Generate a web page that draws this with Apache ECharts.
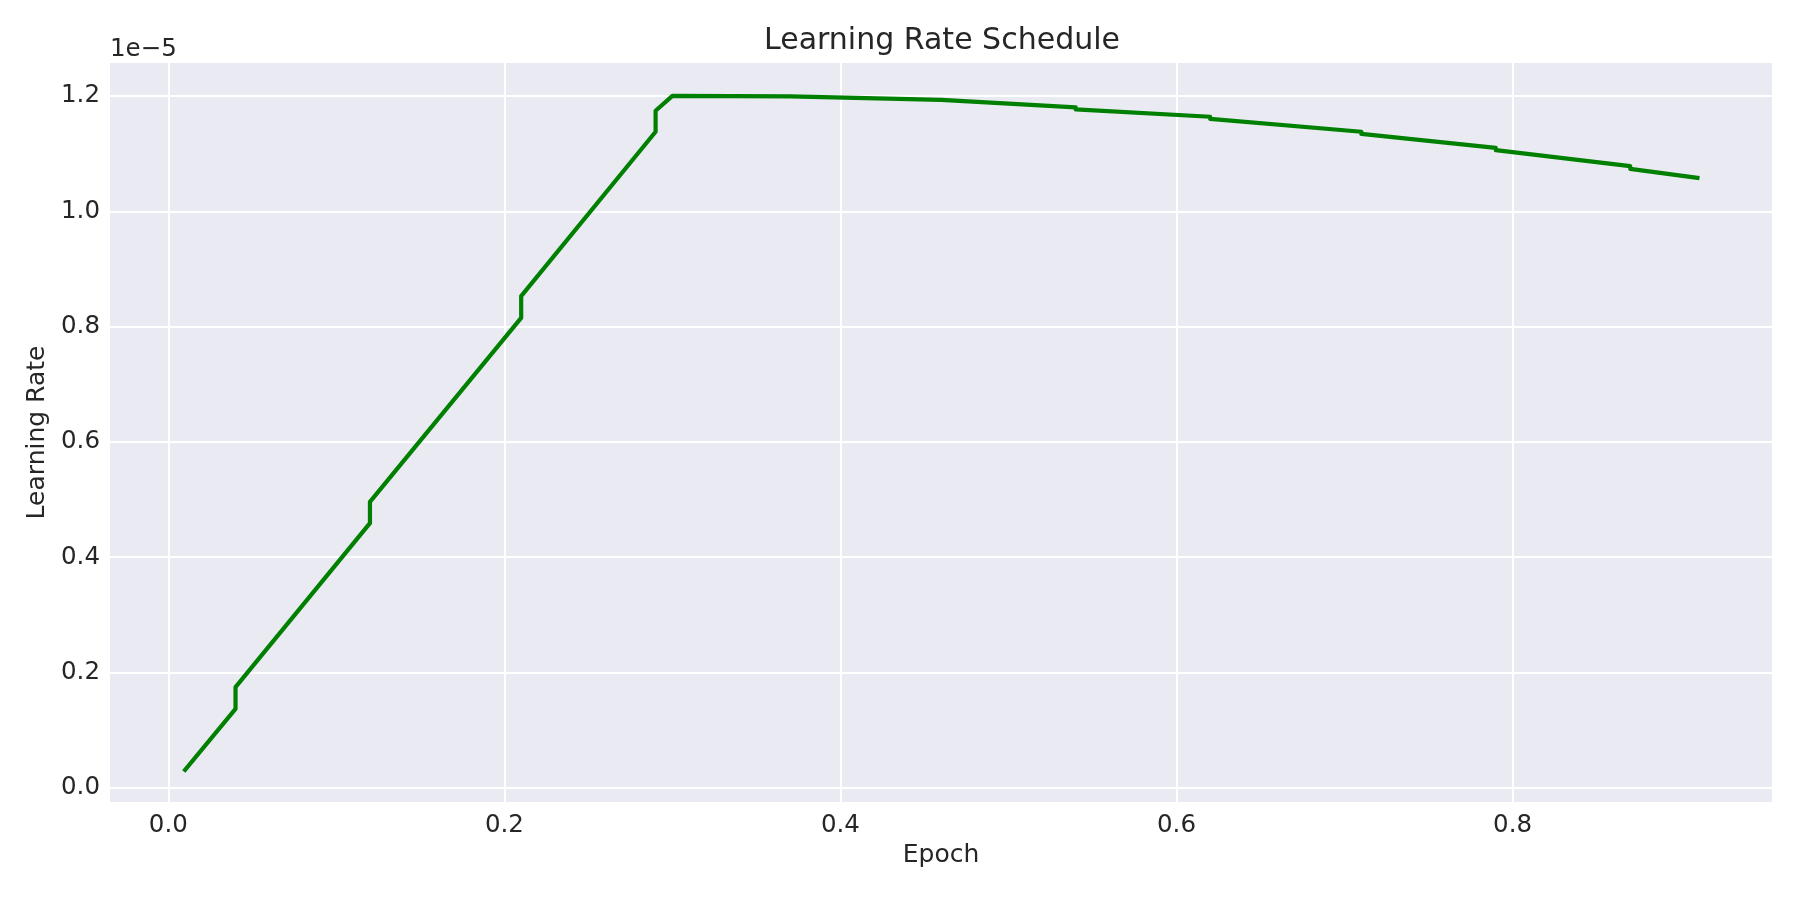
<!DOCTYPE html>
<html>
<head>
<meta charset="utf-8">
<title>Learning Rate Schedule</title>
<script src="https://cdn.jsdelivr.net/npm/echarts@6.0.0/dist/echarts.min.js"></script>
<style>
	html, body { margin: 0; padding: 0; background: #ffffff; }
	#echart { width: 1800px; height: 900px; }
</style>
</head>
<body>
<div id="echart"></div>
<script>
// 数据（学习率以 1e-5 为单位）
var epochs = [0.01, 0.04, 0.04, 0.12, 0.12, 0.21, 0.21, 0.29, 0.29, 0.30,
		0.37, 0.37, 0.46, 0.46, 0.54, 0.54, 0.62, 0.62, 0.71, 0.71,
		0.79, 0.79, 0.87, 0.87, 0.91];
var lrValues = [0.031, 0.137, 0.1745, 0.459, 0.496, 0.815, 0.853, 1.138, 1.1745, 1.2003,
		1.1995, 1.1980, 1.1932, 1.1900, 1.1802, 1.1767, 1.164, 1.1605, 1.138, 1.1343,
		1.110, 1.106, 1.0783, 1.0737, 1.058];
var xTicks = [0.0, 0.2, 0.4, 0.6, 0.8];
var yTicks = [0.0, 0.2, 0.4, 0.6, 0.8, 1.0, 1.2];

var textColor = '#262626';
var fontName = 'DejaVu Sans';

var lineData = [];
for (var i = 0; i < epochs.length; i++) {
	lineData.push([epochs[i], lrValues[i]]);
}

function tickFormatter(list) {
	return function (value) {
		for (var k = 0; k < list.length; k++) {
			if (Math.abs(list[k] - value) < 1e-9) {
				return list[k].toFixed(1);
			}
		}
		return '';
	};
}

var myChart = echarts.init(document.getElementById('echart'), null, { renderer: 'canvas' });

var option = {
	backgroundColor : '#ffffff',
	animation : false,
	textStyle : { fontFamily : fontName },
	title : {
		text : 'Learning Rate Schedule',
		left : 937,
		top : 21,
		textAlign : 'center',
		textStyle : {
			fontFamily : fontName,
			fontSize : 30,
			fontWeight : 'normal',
			color : textColor
		}
	},
	graphic : [ {
		type : 'text',
		left : 110,
		top : 37,
		style : {
			text : '1e\u22125',
			fontFamily : fontName,
			fontSize : 24.5,
			fill : textColor
		}
	} ],
	grid : {
		left : 109,
		right : 27,
		top : 62,
		bottom : 97,
		show : true,
		backgroundColor : '#EAEAF2',
		borderWidth : 0,
		outerBoundsMode : 'none'
	},
	xAxis : {
		type : 'value',
		min : -0.0353,
		max : 0.955,
		splitNumber : 5,
		name : 'Epoch',
		nameLocation : 'middle',
		nameGap : 36,
		nameTextStyle : { fontFamily : fontName, fontSize : 25, color : textColor },
		axisLine : { show : false },
		axisTick : { show : false },
		axisLabel : {
			showMinLabel : false,
			showMaxLabel : false,
			margin : 10,
			fontFamily : fontName,
			fontSize : 24.5,
			color : textColor,
			formatter : tickFormatter(xTicks)
		},
		splitLine : { show : true, lineStyle : { color : '#ffffff', width : 2 } }
	},
	yAxis : {
		type : 'value',
		min : -0.0264,
		max : 1.259,
		splitNumber : 6,
		name : 'Learning Rate',
		nameLocation : 'middle',
		nameGap : 57,
		nameTextStyle : { fontFamily : fontName, fontSize : 25, color : textColor },
		axisLine : { show : false },
		axisTick : { show : false },
		axisLabel : {
			showMinLabel : false,
			showMaxLabel : false,
			margin : 9,
			fontFamily : fontName,
			fontSize : 24.5,
			color : textColor,
			formatter : tickFormatter(yTicks)
		},
		splitLine : { show : true, lineStyle : { color : '#ffffff', width : 2 } }
	},
	series : [ {
		name : 'Learning Rate',
		type : 'line',
		data : lineData,
		showSymbol : false,
		symbol : 'none',
		lineStyle : {
			color : '#008000',
			width : 4.2,
			join : 'round',
			cap : 'square'
		}
	} ]
};

myChart.setOption(option);
</script>
</body>
</html>
